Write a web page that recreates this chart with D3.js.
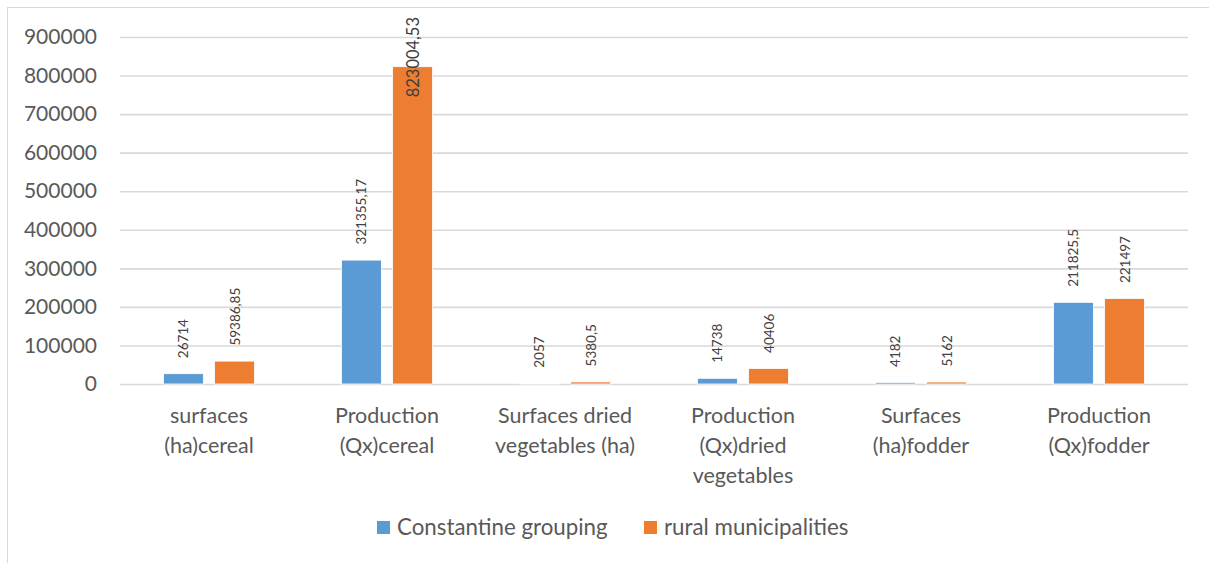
<!DOCTYPE html>
<html>
<head>
<meta charset="utf-8">
<script src="https://cdn.jsdelivr.net/npm/d3@7"></script>
<style>
  html, body { margin: 0; padding: 0; background: #ffffff; }
  svg { display: block; font-family: Lato, "Open Sans", sans-serif; }
</style>
</head>
<body>
<svg id="chart" width="1209" height="563"></svg>
<script>
// Category labels (line breaks as drawn under the axis)
const categories = [
  "surfaces\n(ha)cereal",
  "Production\n(Qx)cereal",
  "Surfaces dried\nvegetables (ha)",
  "Production\n(Qx)dried\nvegetables",
  "Surfaces\n(ha)fodder",
  "Production\n(Qx)fodder"
];
const seriesNames = ["Constantine grouping", "rural municipalities"];
const constantineValues = [26714, 321355.17, 2057, 14738, 4182, 211825.5];
const ruralValues = [59386.85, 823004.53, 5380.5, 40406, 5162, 221497];
const yTicks = [0, 100000, 200000, 300000, 400000, 500000, 600000, 700000, 800000, 900000];
const seriesColors = ["#5b9bd5", "#ed7d31"];

const svg = d3.select("#chart");

// outer chart frame
svg.append("rect")
  .attr("x", 7.5).attr("y", 7.5)
  .attr("width", 1260).attr("height", 620)
  .attr("fill", "none").attr("stroke", "#d9d9d9").attr("stroke-width", 1);

const plot = { left: 120, right: 1188, top: 37, bottom: 384 };

const y = d3.scaleLinear().domain([0, 900000]).range([plot.bottom, plot.top]);
const x0 = d3.scaleBand().domain(d3.range(categories.length)).range([plot.left, plot.right]).padding(0);
// two bars of ~40px with an ~11px gap, centred in each 178px band
const groupWidth = 91;
const x1 = d3.scaleBand().domain([0, 1]).range([0, groupWidth]).paddingInner(0.22).paddingOuter(0);

// gridlines and y tick labels
const yAxis = d3.axisLeft(y)
  .tickValues(yTicks)
  .tickFormat(d3.format("d"))
  .tickSize(-(plot.right - plot.left))
  .tickPadding(23);
const ga = svg.append("g").attr("transform", `translate(${plot.left},0)`).call(yAxis);
ga.select(".domain").remove();
ga.selectAll(".tick line").attr("stroke", "#d9d9d9").attr("stroke-width", 1.6);
ga.selectAll(".tick text")
  .attr("fill", "#595959")
  .style("font-size", "21px")
  .style("font-family", "Lato, 'Open Sans', sans-serif");

// bars
const rows = categories.map((c, i) => ({ i, values: [constantineValues[i], ruralValues[i]] }));
const groups = svg.append("g").selectAll("g")
  .data(rows).join("g")
  .attr("transform", d => `translate(${x0(d.i) + (x0.bandwidth() - groupWidth) / 2},0)`);

groups.selectAll("rect")
  .data(d => d.values.map((v, s) => ({ v, s })))
  .join("rect")
  .attr("x", d => x1(d.s))
  .attr("width", x1.bandwidth())
  .attr("y", d => y(d.v))
  .attr("height", d => plot.bottom - y(d.v))
  .attr("fill", d => seriesColors[d.s])
  .attr("stroke", "#ffffff").attr("stroke-width", 0.8);

// rotated value labels above each bar; the tallest one is placed inside the bar top
const fmt = v => String(v).replace(".", ",");
groups.selectAll("text.val")
  .data(d => d.values.map((v, s) => ({ v, s })))
  .join("text")
  .attr("class", "val")
  .each(function (d) {
    const cx = x1(d.s) + x1.bandwidth() / 2;
    const t = d3.select(this);
    const inside = d.v > 700000;
    const size = inside ? 16.5 : 13.5;
    const ty = inside ? 17 : y(d.v) - 15.5;
    t.attr("transform", `translate(${cx},${ty}) rotate(-90)`)
      .attr("text-anchor", inside ? "end" : "start")
      .attr("dominant-baseline", "central")
      .attr("fill", "#404040")
      .style("font-size", size + "px")
      .text(fmt(d.v));
  });

// category labels
const xl = svg.append("g");
categories.forEach((c, i) => {
  const t = xl.append("text")
    .attr("x", x0(i) + x0.bandwidth() / 2)
    .attr("y", 423)
    .attr("text-anchor", "middle")
    .attr("fill", "#595959")
    .style("font-size", "21.5px");
  c.split("\n").forEach((line, k) => {
    t.append("tspan")
      .attr("x", x0(i) + x0.bandwidth() / 2)
      .attr("dy", k === 0 ? 0 : 30)
      .text(line);
  });
});

// legend
const legendItems = [
  { name: seriesNames[0], color: seriesColors[0], x: 377 },
  { name: seriesNames[1], color: seriesColors[1], x: 644 }
];
const lg = svg.append("g").selectAll("g").data(legendItems).join("g")
  .attr("transform", d => `translate(${d.x},521)`);
lg.append("rect").attr("width", 13).attr("height", 13).attr("fill", d => d.color);
lg.append("text")
  .attr("x", 20).attr("y", 13.5)
  .attr("fill", "#595959")
  .style("font-size", "22.3px")
  .text(d => d.name);
</script>
</body>
</html>
